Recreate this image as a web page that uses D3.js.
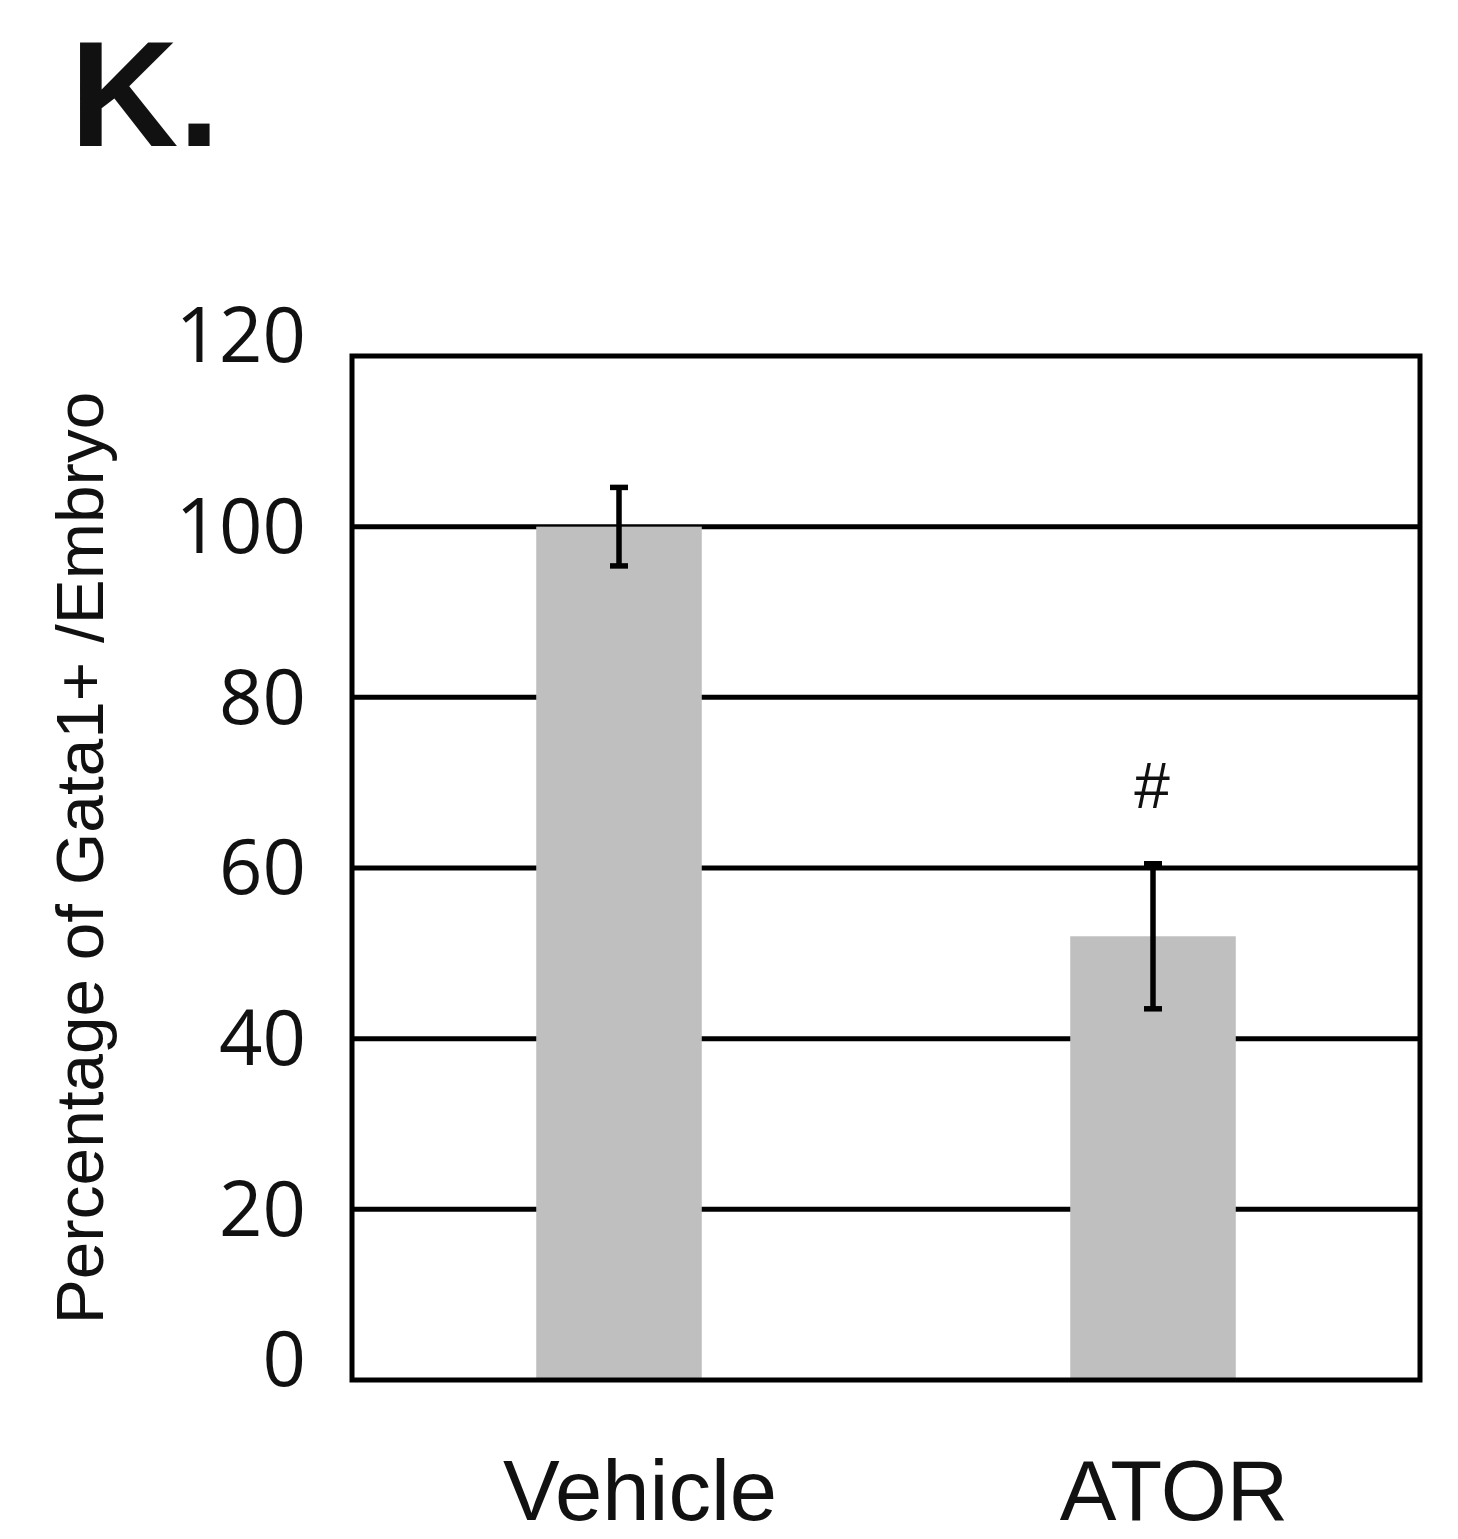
<!DOCTYPE html>
<html>
<head>
<meta charset="utf-8">
<script src="https://cdn.jsdelivr.net/npm/d3@7"></script>
<style>
  html, body { margin: 0; padding: 0; background: #fff; }
  svg { display: block; }
</style>
</head>
<body>
<div id="chart"></div>
<script>
// Gata1+ cells per embryo, normalised to vehicle (%)
const categories = ["Vehicle", "ATOR"];
const meanValues = [100, 52];
const errorValues = [4.6, 8.5];
const yTicks = [0, 20, 40, 60, 80, 100, 120];
const significance = ["", "#"];
const panelLabel = "K.";
const yAxisTitle = "Percentage of Gata1+ /Embryo";

const W = 1458, H = 1539;
const plot = { left: 352, right: 1420, top: 356, bottom: 1380 };

const svg = d3.select("#chart").append("svg")
  .attr("width", W).attr("height", H);

const x = d3.scaleBand()
  .domain(categories)
  .range([plot.left, plot.right])
  .paddingInner(0.69)
  .paddingOuter(0.345);

const y = d3.scaleLinear()
  .domain([0, 120])
  .range([plot.bottom, plot.top]);

// Panel letter
svg.append("text")
  .attr("x", 70).attr("y", 146)
  .attr("font-family", "'Liberation Sans', Arial, sans-serif")
  .attr("font-weight", "bold")
  .attr("font-size", 150)
  .attr("fill", "#111")
  .text(panelLabel);

// Horizontal gridlines
svg.append("g")
  .selectAll("line")
  .data(yTicks.filter(t => t > 0 && t < 120))
  .join("line")
  .attr("x1", plot.left).attr("x2", plot.right)
  .attr("y1", d => y(d)).attr("y2", d => y(d))
  .attr("stroke", "#000").attr("stroke-width", 5);

// Bars
svg.append("g")
  .selectAll("rect")
  .data(categories)
  .join("rect")
  .attr("x", d => x(d))
  .attr("width", x.bandwidth())
  .attr("y", (d, i) => y(meanValues[i]))
  .attr("height", (d, i) => y(0) - y(meanValues[i]))
  .attr("fill", "#bfbfbf");

// Plot frame
svg.append("rect")
  .attr("x", plot.left).attr("y", plot.top)
  .attr("width", plot.right - plot.left)
  .attr("height", plot.bottom - plot.top)
  .attr("fill", "none")
  .attr("stroke", "#000").attr("stroke-width", 5);

// Error bars
const eb = svg.append("g").attr("stroke", "#000").attr("stroke-width", 5.5);
categories.forEach((c, i) => {
  const cx = x(c) + x.bandwidth() / 2;
  const hi = y(meanValues[i] + errorValues[i]);
  const lo = y(meanValues[i] - errorValues[i]);
  eb.append("line").attr("x1", cx).attr("x2", cx).attr("y1", hi).attr("y2", lo);
  eb.append("line").attr("x1", cx - 9).attr("x2", cx + 9).attr("y1", hi).attr("y2", hi);
  eb.append("line").attr("x1", cx - 9).attr("x2", cx + 9).attr("y1", lo).attr("y2", lo);
});

// Significance marks
svg.append("g")
  .selectAll("text")
  .data(categories)
  .join("text")
  .attr("x", d => x(d) + x.bandwidth() / 2 - 1)
  .attr("y", (d, i) => y(meanValues[i] + errorValues[i]) - 56)
  .attr("text-anchor", "middle")
  .attr("font-family", "'Liberation Sans', Arial, sans-serif")
  .attr("font-size", 64)
  .attr("fill", "#111")
  .text((d, i) => significance[i]);

// Y axis tick labels (end labels sit slightly above their line)
const yAxis = d3.axisLeft(y).tickValues(yTicks).tickSize(0).tickPadding(46);
const gy = svg.append("g")
  .attr("transform", `translate(${plot.left},0)`)
  .call(yAxis);
gy.select(".domain").remove();
gy.selectAll("text")
  .attr("font-family", "'Open Sans', 'Noto Sans', sans-serif")
  .attr("font-size", 76)
  .attr("fill", "#111")
  .attr("dy", d => (d === 0 || d === 120) ? "0.07em" : "0.34em");

// X axis category labels
const xAxis = d3.axisBottom(x).tickSize(0).tickPadding(80);
const gx = svg.append("g")
  .attr("transform", `translate(21,${plot.bottom})`)
  .call(xAxis);
gx.select(".domain").remove();
gx.selectAll("text")
  .attr("font-family", "'Liberation Sans', Arial, sans-serif")
  .attr("font-size", 85)
  .attr("fill", "#111");

// Y axis title
svg.append("text")
  .attr("transform", "translate(103,858) rotate(-90)")
  .attr("text-anchor", "middle")
  .attr("font-family", "'Liberation Sans', Arial, sans-serif")
  .attr("font-size", 67.5)
  .attr("fill", "#111")
  .text(yAxisTitle);
</script>
</body>
</html>
